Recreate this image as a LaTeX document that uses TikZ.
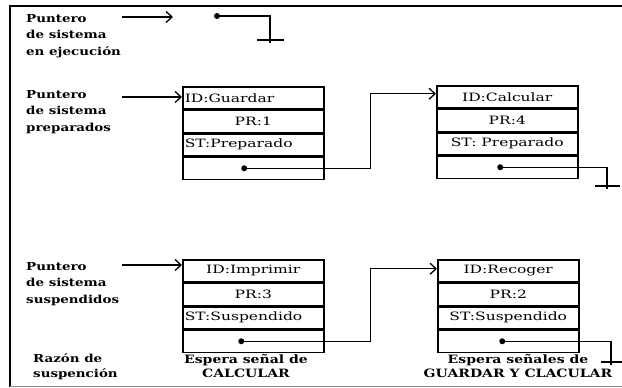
\documentclass[tikz,border=0pt]{standalone}
\usepackage{fontspec}
\setmainfont{DejaVu Serif}
\newfontfamily\lblfont[FakeStretch=1.22]{DejaVu Serif}
\newfontfamily\cellfont[FakeStretch=1.35]{DejaVu Serif}
\usetikzlibrary{arrows.meta, positioning, calc}
\tikzset{
  cell/.style  = {draw, line width=1.5pt, minimum width=141pt, minimum height=22pt,
                  inner sep=0pt, font=\cellfont\fontsize{11.5}{14}\selectfont},
  lcell/.style = {cell, text width=137pt, align=left},
  lbl/.style   = {align=left, inner sep=0pt, anchor=north west,
                  font=\lblfont\bfseries\fontsize{11}{16.5}\selectfont},
  why/.style   = {align=center, inner sep=0pt, anchor=north,
                  font=\lblfont\bfseries\fontsize{11.5}{14}\selectfont},
  dot/.style   = {circle, fill, inner sep=0pt, minimum size=6pt},
}

\begin{document}
\begin{tikzpicture}[x=1pt, y=-1pt,
    >={Straight Barb[length=6pt,width=11pt,line width=1.3pt]},
    ptr/.style  ={->, line width=1.4pt},
    link/.style ={->, line width=1.4pt},
    wire/.style ={line width=1.4pt},
    gndbar/.style={line width=1.6pt}
  ]
  \useasboundingbox (0,0) rectangle (622,388);

  %% --- frame (open on the right) ---
  \draw[line width=1.6pt] (622,6) -- (10,6) -- (10,386.5);
  \draw[line width=1.2pt, black!45] (10,386.5) -- (622,386.5);

  %% --- left column: pointers ---
  \node[lbl] (run) at (26,14) {Puntero\\de sistema\\en ejecución};
  \node[lbl] (rdy) at (26,90) {Puntero\\de sistema\\preparados};
  \node[lbl] (sus) at (26,262) {Puntero\\de sistema\\suspendidos};
  \node[lbl, font=\lblfont\bfseries\fontsize{11}{15}\selectfont] (why) at (33,353)
      {Razón de\\suspención};

  %% --- running: empty list ---
  \coordinate (runtail) at (122,17);
  \coordinate (runhead) at (173,17);
  \draw[ptr] (runtail) -- (runhead);
  \node[dot] (rundot) at (217,16) {};
  \coordinate (gnd0) at (270,40);
  \draw[wire] (rundot.center) -| (gnd0);
  \draw[gndbar] ([xshift=-13pt]gnd0) -- ([xshift=14pt]gnd0);
  \draw[wire] (gnd0) -- ++(0,3);

  %% --- ready list: Guardar -> Calcular ---
  \node[lcell, anchor=north west] (g1) at (182,86) {ID:Guardar};
  \node[cell, below=0pt of g1] (g2) {PR:1};
  \node[lcell, below=0pt of g2] (g3) {ST:Preparado};
  \node[cell, below=0pt of g3] (g4) {};
  \node[dot] (gdot) at ([xshift=-9pt]g4.center) {};

  \node[cell, anchor=north west] (c1) at (436,85) {ID:Calcular};
  \node[cell, below=0pt of c1] (c2) {PR:4};
  \node[cell, below=0pt of c2] (c3) {ST: Preparado};
  \node[cell, below=0pt of c3] (c4) {};
  \node[dot] (cdot) at ([xshift=-7pt]c4.center) {};

  \coordinate (rdytail) at (122,97);
  \draw[ptr] (rdytail) -- (rdytail -| g1.west);
  \draw[link] (gdot.center) -- ++(126,0) |- ([yshift=3pt]c1.west);
  \coordinate (gnd1) at (607,186);
  \draw[wire] (cdot.center) -| (gnd1);
  \draw[gndbar] ([xshift=-12pt]gnd1) -- ([xshift=13pt]gnd1);
  \draw[wire] (gnd1) -- ++(0,3);

  %% --- suspended list: Imprimir -> Recoger ---
  \node[cell, anchor=north west] (i1) at (182,259) {ID:Imprimir};
  \node[cell, below=0pt of i1] (i2) {PR:3};
  \node[lcell, below=0pt of i2] (i3) {ST:Suspendido};
  \node[cell, below=0pt of i3] (i4) {};
  \node[dot] (idot) at ([xshift=-12pt]i4.center) {};

  \node[cell, anchor=north west] (r1) at (437,259) {ID:Recoger};
  \node[cell, below=0pt of r1] (r2) {PR:2};
  \node[cell, below=0pt of r2] (r3) {ST:Suspendido};
  \node[cell, below=0pt of r3] (r4) {};
  \node[dot] (rdot) at ([xshift=-6pt]r4.center) {};

  \coordinate (sustail) at (122,265);
  \draw[ptr] (sustail) -- (sustail -| i1.west);
  \draw[link] (idot.center) -- ++(129,0) |- ([yshift=2pt]r1.west);
  \coordinate (gnd2) at (611,362);
  \draw[wire] (rdot.center) -| (gnd2);
  \draw[gndbar] ([xshift=-10pt]gnd2) -- ([xshift=11pt]gnd2);
  \draw[wire] (gnd2) -- ++(0,3);

  %% --- reasons ---
  \node[why] (iwhy) at (246,354) {Espera señal de\\CALCULAR};
  \node[why] (rwhy) at (518,354) {Espera señales de\\GUARDAR Y CLACULAR};
\end{tikzpicture}
\end{document}
